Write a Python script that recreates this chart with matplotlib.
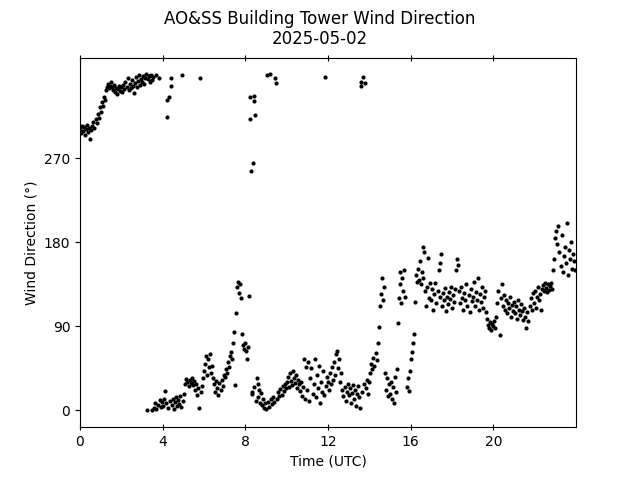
import numpy as np
import matplotlib
matplotlib.use("Agg")
import matplotlib.pyplot as plt

# wind direction (deg) every 3 minutes, one row per hour
dir_rows = [
    [302, 297, 305, 299, 304, 295, 301, 306, 298, 303, 291, 300, 305, 309, 303, 312, 308, 318, 313, 325],
    [320, 330, 326, 336, 333, 343, 347, 350, 345, 348, 352, 346, 343, 349, 341, 345, 339, 344, 348, 342],
    [346, 341, 349, 344, 352, 347, 356, 343, 350, 345, 354, 348, 340, 351, 357, 346, 353, 359, 349, 355],
    [352, 358, 350, 356, 360, 0, 355, 358, 352, 359, 354, 357, 3, 8, 2, 6, 356, 11, 4, 9],
    [5, 12, 21, 8, 314, 3, 336, 10, 356, 6, 12, 2, 9, 14, 5, 11, 7, 15, 4, 359],
    [10, 18, 28, 34, 30, 26, 33, 29, 35, 27, 31, 22, 28, 17, 24, 3, 356, 20, 26, 35],
    [42, 50, 58, 38, 55, 46, 60, 40, 48, 35, 28, 20, 31, 24, 17, 29, 22, 33, 26, 38],
    [36, 44, 40, 52, 47, 58, 63, 55, 72, 84, 27, 104, 132, 138, 126, 135, 120, 82, 70, 66],
    [72, 64, 55, 68, 123, 336, 18, 265, 25, 316, 10, 35, 14, 22, 8, 19, 6, 12, 3, 8],
    [2, 359, 9, 4, 360, 12, 7, 14, 9, 356, 351, 12, 20, 15, 23, 17, 26, 21, 28, 24],
    [30, 36, 25, 40, 32, 27, 42, 35, 29, 38, 24, 33, 28, 21, 30, 15, 25, 55, 12, 47],
    [22, 52, 10, 35, 45, 18, 28, 55, 14, 38, 24, 48, 8, 30, 20, 42, 16, 357, 26, 36],
    [30, 22, 40, 28, 46, 33, 52, 38, 60, 64, 45, 55, 30, 40, 22, 15, 25, 10, 20, 28],
    [16, 24, 8, 19, 27, 12, 22, 5, 18, 26, 14, 3, 348, 20, 357, 28, 351, 24, 33, 18],
    [30, 40, 50, 44, 56, 48, 61, 54, 72, 89, 112, 125, 142, 118, 132, 40, 22, 35, 15, 28],
    [18, 30, 12, 25, 8, 36, 20, 44, 94, 120, 135, 115, 142, 128, 150, 122, 25, 35, 21, 42],
    [55, 63, 72, 82, 116, 145, 138, 152, 140, 160, 135, 148, 142, 170, 128, 112, 132, 163, 120, 136],
    [118, 130, 108, 125, 137, 115, 128, 150, 122, 168, 112, 126, 118, 131, 106, 122, 114, 127, 119, 132],
    [110, 124, 116, 130, 150, 162, 156, 128, 115, 132, 120, 108, 126, 118, 135, 112, 124, 105, 130, 117],
    [122, 138, 112, 127, 118, 142, 108, 125, 116, 132, 110, 121, 128, 105, 98, 92, 88, 95, 86, 93],
    [90, 96, 88, 100, 115, 128, 81, 120, 135, 112, 124, 108, 118, 104, 115, 110, 121, 100, 113, 106],
    [116, 104, 112, 98, 118, 108, 102, 114, 106, 97, 110, 100, 88, 105, 96, 112, 120, 108, 126, 115],
    [128, 110, 122, 132, 118, 125, 108, 130, 134, 128, 136, 131, 127, 135, 129, 133, 137, 130, 150, 162],
    [185, 192, 178, 198, 170, 155, 188, 148, 165, 175, 158, 201, 145, 172, 162, 180, 152, 168, 160, 150],
]

# a few extra scattered readings
extra_hours = [3.32, 3.5, 3.7, 4.22, 4.38, 8.22, 8.28, 8.42, 8.44, 8.33, 8.6, 13.62, 15.5, 16.62, 17.42]
extra_dirs = [358, 0, 359, 333, 348, 312, 257, 337, 332, 20, 28, 352, 148, 175, 158]

minutes = np.arange(0, 1440, 3)
hours = minutes / 60.0
dirs = np.concatenate([np.array(r, dtype=float) for r in dir_rows])

fig, ax = plt.subplots(figsize=(6.4, 4.8), dpi=100)
ax.scatter(hours, dirs, s=9, c="black", linewidths=0)
ax.scatter(extra_hours, extra_dirs, s=9, c="black", linewidths=0)

ax.set_xlim(0, 24)
ax.set_ylim(-18, 378)
ax.set_xticks(range(0, 24, 4))
ax.set_yticks([0, 90, 180, 270])
ax.tick_params(axis="x", direction="inout", length=4, top=True)
ax.set_xlabel("Time (UTC)")
ax.set_ylabel("Wind Direction (°)")
fig.suptitle("AO&SS Building Tower Wind Direction\n2025-05-02")

fig.savefig("out.png")
